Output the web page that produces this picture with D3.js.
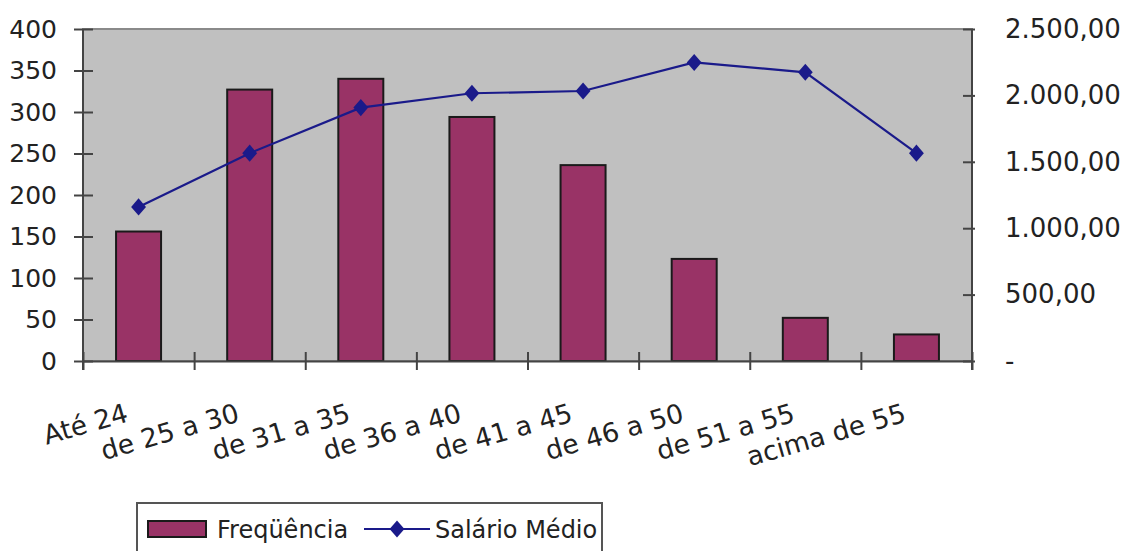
<!DOCTYPE html>
<html>
<head>
<meta charset="utf-8">
<script src="https://cdn.jsdelivr.net/npm/d3@7"></script>
<style>
  body { margin: 0; background: #fff; }
  text { font-family: "DejaVu Sans", sans-serif; font-size: 24px; fill: #222; }
</style>
</head>
<body>
<svg id="chart" width="1126" height="551"></svg>
<script>
// faixas etarias
var categories = ["Até 24", "de 25 a 30", "de 31  a 35", "de 36 a 40", "de 41  a 45",
                  "de 46 a 50", "de 51  a 55", "acima de 55"];
var frequencia = [156, 327, 340, 294, 236, 123, 52, 32];
var salarioMedio = [1160, 1565, 1908, 2016, 2033, 2248, 2174, 1565];
var leftTicks = [0, 50, 100, 150, 200, 250, 300, 350, 400];
var rightTicks = [0, 500, 1000, 1500, 2000, 2500];

(function() {

    var svg = d3.select("#chart"),
        left = 83, right = 972, top = 29, bottom = 361,
        barColor = "#993366",
        lineColor = "#1a1a8a"
        ;

    var x = d3.scaleBand()
        .domain(categories)
        .range([left, right])
        .paddingInner(0.595)
        .paddingOuter(0.2975);

    // category boundaries for the tick marks
    var xb = d3.scaleLinear().domain([0, categories.length]).range([left, right]);

    var yL = d3.scaleLinear().domain([0, 400]).range([bottom, top]);
    var yR = d3.scaleLinear().domain([0, 2500]).range([bottom, top]);

    var br = d3.formatLocale({ decimal: ",", thousands: ".", grouping: [3], currency: ["R$", ""] });
    var fmtR = function(d) { return d === 0 ? "-" : br.format(",.2f")(d); };

    // plot area
    svg.append("rect")
        .attr("x", left).attr("y", top)
        .attr("width", right - left).attr("height", bottom - top)
        .style("fill", "#c0c0c0")
        .style("stroke", "#8a8a8a")
        .style("stroke-width", 2);

    // bars
    svg.append("g").selectAll("rect")
        .data(frequencia)
        .join("rect")
        .attr("x", function(d, i) { return x(categories[i]); })
        .attr("y", function(d) { return yL(d); })
        .attr("width", x.bandwidth())
        .attr("height", function(d) { return yL(0) - yL(d); })
        .style("fill", barColor)
        .style("stroke", "#1a1a1a")
        .style("stroke-width", 2);

    // left axis
    var gL = svg.append("g")
        .attr("transform", "translate(" + left + ",0)")
        .call(d3.axisLeft(yL).tickValues(leftTicks).tickSizeInner(9).tickSizeOuter(0).tickPadding(17));
    gL.selectAll(".tick line").attr("x2", -9).attr("x1", 10).style("stroke", "#444").style("stroke-width", 2);
    gL.select(".domain").attr("d", "M0," + top + "V" + (bottom + 9)).style("stroke", "#444").style("stroke-width", 2);
    gL.selectAll("text").style("font-size", "25px").style("font-family", "DejaVu Sans").style("fill", "#222");

    // right axis
    var gR = svg.append("g")
        .attr("transform", "translate(" + right + ",0)")
        .call(d3.axisRight(yR).tickValues(rightTicks).tickFormat(fmtR).tickSizeInner(-9).tickSizeOuter(0).tickPadding(33));
    gR.selectAll(".tick line").attr("x2", -9).attr("x1", 3).style("stroke", "#444").style("stroke-width", 2);
    gR.select(".domain").attr("d", "M0," + top + "V" + (bottom + 9)).style("stroke", "#444").style("stroke-width", 2);
    gR.selectAll("text").style("font-size", "26px").style("font-family", "DejaVu Sans").style("fill", "#222");

    // bottom axis: boundary ticks
    var gB = svg.append("g")
        .attr("transform", "translate(0," + bottom + ")")
        .call(d3.axisBottom(xb).ticks(categories.length).tickFormat("").tickSizeInner(9).tickSizeOuter(0));
    gB.selectAll(".tick line").attr("y1", -9).attr("y2", 9).style("stroke", "#444").style("stroke-width", 2);
    gB.select(".domain").style("stroke", "#444").style("stroke-width", 2);

    // bottom axis: rotated category labels
    var gC = svg.append("g")
        .attr("transform", "translate(0," + bottom + ")")
        .call(d3.axisBottom(x).tickSize(0));
    gC.select(".domain").remove();
    gC.selectAll("text")
        .attr("y", 0).attr("dy", 0)
        .attr("text-anchor", "end")
        .attr("transform", "translate(-9,60) rotate(-16)")
        .style("font-size", "26.5px").style("font-family", "DejaVu Sans").style("fill", "#222");

    // salario medio line
    var line = d3.line()
        .x(function(d, i) { return x(categories[i]) + x.bandwidth() / 2; })
        .y(function(d) { return yR(d); });

    svg.append("path")
        .datum(salarioMedio)
        .attr("d", line)
        .style("fill", "none")
        .style("stroke", lineColor)
        .style("stroke-width", 2.2);

    var diamond = d3.symbol().type(d3.symbolDiamond).size(85);
    svg.append("g").selectAll("path")
        .data(salarioMedio)
        .join("path")
        .attr("d", diamond)
        .attr("transform", function(d, i) {
            return "translate(" + (x(categories[i]) + x.bandwidth() / 2) + "," + yR(d) + ") scale(1.5,1)"; })
        .style("fill", lineColor);

    // legend
    var lg = svg.append("g");
    lg.append("rect")
        .attr("x", 137).attr("y", 503).attr("width", 465).attr("height", 70)
        .style("fill", "#fff").style("stroke", "#555").style("stroke-width", 2);
    lg.append("rect")
        .attr("x", 148).attr("y", 521).attr("width", 58).attr("height", 16)
        .style("fill", barColor).style("stroke", "#1a1a1a").style("stroke-width", 2);
    lg.append("text").attr("x", 217).attr("y", 538).text("Freqüência");
    lg.append("line")
        .attr("x1", 364).attr("x2", 430).attr("y1", 529).attr("y2", 529)
        .style("stroke", lineColor).style("stroke-width", 2.2);
    lg.append("path")
        .attr("d", diamond)
        .attr("transform", "translate(397,529) scale(1.5,1)")
        .style("fill", lineColor);
    lg.append("text").attr("x", 435).attr("y", 538).text("Salário Médio");

})();
</script>
</body>
</html>
